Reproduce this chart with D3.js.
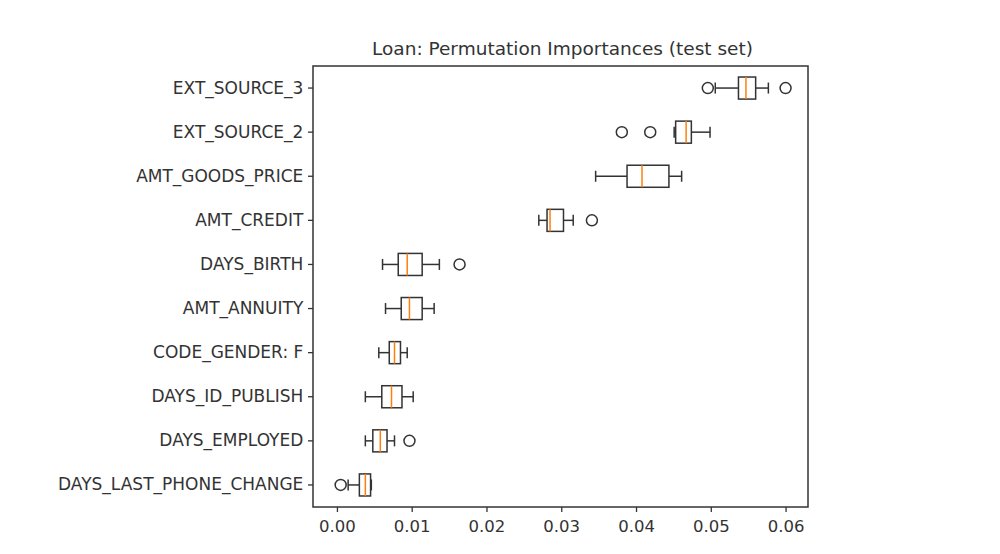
<!DOCTYPE html>
<html>
<head>
<meta charset="utf-8">
<script src="https://cdn.jsdelivr.net/npm/d3@7"></script>
<style>
  body { margin: 0; background: #fff; }
  text { font-family: "DejaVu Sans", sans-serif; }
</style>
</head>
<body>
<svg id="chart" width="1000" height="554"></svg>
<script>
// Features, top to bottom
const features = ['EXT_SOURCE_3', 'EXT_SOURCE_2', 'AMT_GOODS_PRICE', 'AMT_CREDIT', 'DAYS_BIRTH',
  'AMT_ANNUITY', 'CODE_GENDER: F', 'DAYS_ID_PUBLISH', 'DAYS_EMPLOYED', 'DAYS_LAST_PHONE_CHANGE'];
// [whisker low, q1, median, q3, whisker high]
const boxStats = [
  [0.0506, 0.0537, 0.0547, 0.0560, 0.0577],
  [0.0451, 0.0453, 0.0467, 0.0474, 0.0499],
  [0.0346, 0.0388, 0.0408, 0.0444, 0.0461],
  [0.0270, 0.0281, 0.0285, 0.0303, 0.0316],
  [0.0061, 0.0082, 0.0094, 0.0114, 0.0137],
  [0.0065, 0.0086, 0.0097, 0.0114, 0.0130],
  [0.0056, 0.0070, 0.0077, 0.0085, 0.0094],
  [0.0038, 0.0060, 0.0073, 0.0087, 0.0102],
  [0.0038, 0.0048, 0.0058, 0.0067, 0.0077],
  [0.0015, 0.0030, 0.0038, 0.0045, 0.0046]
];
const outliers = [
  [0.0496, 0.0600],
  [0.0381, 0.0419],
  [],
  [0.0341],
  [0.0164],
  [],
  [],
  [],
  [0.0097],
  [0.0005]
];
const xTicks = [0, 0.01, 0.02, 0.03, 0.04, 0.05, 0.06];

const L = 313, R = 808, T = 66, B = 507;
const svg = d3.select('#chart');
const x = d3.scaleLinear().domain([-0.0032, 0.0630]).range([L, R]);
const y = d3.scaleBand().domain(features).range([T, B]).paddingInner(0).paddingOuter(0);
const bh = y.bandwidth() * 0.5;
const ink = '#333';

svg.append('text').attr('x', (L + R) / 2 + 2).attr('y', 55).attr('text-anchor', 'middle')
  .attr('font-size', 18.5).attr('fill', ink).text('Loan: Permutation Importances (test set)');

const xAxis = svg.append('g').attr('transform', `translate(0,${B})`)
  .call(d3.axisBottom(x).tickValues(xTicks).tickFormat(d3.format('.2f')).tickSize(5).tickSizeOuter(0));
const yAxis = svg.append('g').attr('transform', `translate(${L},0)`)
  .call(d3.axisLeft(y).tickSize(5).tickSizeOuter(0));
[xAxis, yAxis].forEach(a => {
  a.select('.domain').remove();
  a.selectAll('line').attr('stroke', ink).attr('stroke-width', 1.3);
  a.selectAll('text').attr('fill', ink)
    .style('font-family', '"DejaVu Sans", sans-serif');
});
xAxis.selectAll('text').attr('font-size', 16.5).attr('dy', '1.0em');
yAxis.selectAll('text').attr('font-size', 17).attr('dx', '-0.1em').attr('textLength', function () {
  return null;
});

svg.append('rect').attr('x', L).attr('y', T).attr('width', R - L).attr('height', B - T)
  .attr('fill', 'none').attr('stroke', ink).attr('stroke-width', 1.5);

const g = svg.append('g').selectAll('g').data(features).join('g')
  .attr('transform', d => `translate(0,${y(d) + y.bandwidth() / 2})`);

g.each(function (f, i) {
  const s = boxStats[i];
  const gg = d3.select(this);
  // whiskers
  gg.append('line').attr('x1', x(s[0])).attr('x2', x(s[1])).attr('stroke', ink).attr('stroke-width', 1.5);
  gg.append('line').attr('x1', x(s[3])).attr('x2', x(s[4])).attr('stroke', ink).attr('stroke-width', 1.5);
  [s[0], s[4]].forEach(v => gg.append('line').attr('x1', x(v)).attr('x2', x(v))
    .attr('y1', -bh / 4).attr('y2', bh / 4).attr('stroke', ink).attr('stroke-width', 1.5));
  gg.append('rect').attr('x', x(s[1])).attr('y', -bh / 2).attr('width', x(s[3]) - x(s[1]))
    .attr('height', bh).attr('fill', 'none').attr('stroke', ink).attr('stroke-width', 1.5);
  gg.append('line').attr('x1', x(s[2])).attr('x2', x(s[2])).attr('y1', -bh / 2).attr('y2', bh / 2)
    .attr('stroke', '#ff7f0e').attr('stroke-width', 1.5);
  gg.selectAll('circle').data(outliers[i]).join('circle')
    .attr('cx', d => x(d)).attr('r', 5.5).attr('fill', 'none').attr('stroke', ink).attr('stroke-width', 1.5);
});
</script>
</body>
</html>
